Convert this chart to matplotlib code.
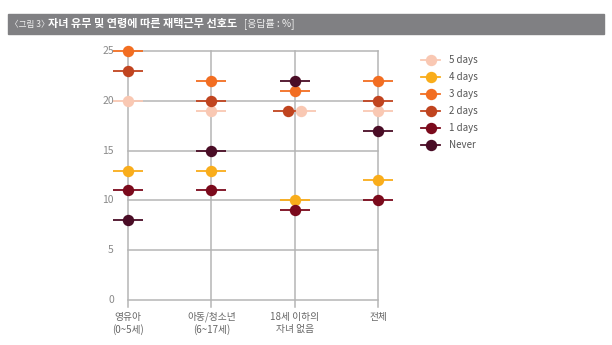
import matplotlib.pyplot as plt
from matplotlib.lines import Line2D
from matplotlib.patches import Rectangle

plt.rcParams['font.family'] = ['Noto Sans CJK KR', 'DejaVu Sans']

# preference share (%) by child status
groups = ['영유아\n(0~5세)', '아동/청소년\n(6~17세)', '18세 이하의\n자녀 없음', '전체']
series = ['5 days', '4 days', '3 days', '2 days', '1 days', 'Never']
days5 = [20, 19, 19, 19]
days4 = [13, 13, 10, 12]
days3 = [25, 22, 21, 22]
days2 = [23, 20, 19, 20]
days1 = [11, 11, 9, 10]
never = [8, 15, 22, 17]
values = [days5, days4, days3, days2, days1, never]
colors = ['#F9C8B3', '#F9AD1B', '#F26E22', '#C0441F', '#7B0A1C', '#4A0D26']
yticks = [0, 5, 10, 15, 20, 25]

fig = plt.figure(figsize=(6.12, 3.45), dpi=100)

# header bar
fig.patches.append(Rectangle((8 / 612, 1 - 34 / 345), 596 / 612, 20 / 345,
                             transform=fig.transFigure, color='#808083', zorder=0))
ty = 1 - 24 / 345
fig.text(10 / 612, ty, '〈그림 3〉', color='#f0f0f0', fontsize=6.2, va='center')
fig.text(48 / 612, ty, '자녀 유무 및 연령에 따른 재택근무 선호도', color='white',
         fontsize=8.0, fontweight='bold', va='center')
fig.text(244 / 612, ty, '[응답률 : %]', color='#f0f0f0', fontsize=7.2, va='center')

ax = fig.add_axes([128 / 612, 45 / 345, 250 / 612, 249 / 345])
ax.set_xlim(0, 3)
ax.set_ylim(0, 25)
for s in ax.spines.values():
    s.set_visible(False)

grid_c = '#b5b5b5'
for v in yticks:
    ax.plot([0, 3], [v, v], color=grid_c, lw=1.1, zorder=1, clip_on=False)
for i in range(len(groups)):
    ax.plot([i, i], [-0.7, 25], color=grid_c, lw=1.1, zorder=1, clip_on=False)

# spread points that share a value within one group
xs = []
for j, vals in enumerate(values):
    row = []
    for i, v in enumerate(vals):
        same = [k for k in range(len(values)) if values[k][i] == v]
        pos = same.index(j)
        row.append(i + ((len(same) - 1) / 2 - pos) * 0.16)
    xs.append(row)

for x, vals, c in zip(xs, values, colors):
    ax.errorbar(x, vals, xerr=0.18, fmt='o', color=c, ms=8.2, mew=0,
                elinewidth=1.3, capsize=0, zorder=3, clip_on=False)

ax.set_xticks([])
ax.set_yticks([])
for v in yticks:
    ax.text(-0.17, v, str(v), ha='right', va='center', fontsize=7.5, color='#8a8a8a')
for i, g in enumerate(groups):
    ax.text(i, -1.2, g, ha='center', va='top', fontsize=7, color='#666666',
            linespacing=1.2)

handles = [Line2D([0], [0], color=c, marker='o', ms=8.2, mew=0, lw=1.3)
           for c in colors]
leg = fig.legend(handles, series, loc='upper left', frameon=False,
                 bbox_to_anchor=(421 / 612, 1 - 55 / 345), borderaxespad=0,
                 borderpad=0, fontsize=7, handlelength=2.0, handletextpad=0.9,
                 labelspacing=0.73)
for t in leg.get_texts():
    t.set_color('#555555')

fig.savefig('out.png', dpi=100)
